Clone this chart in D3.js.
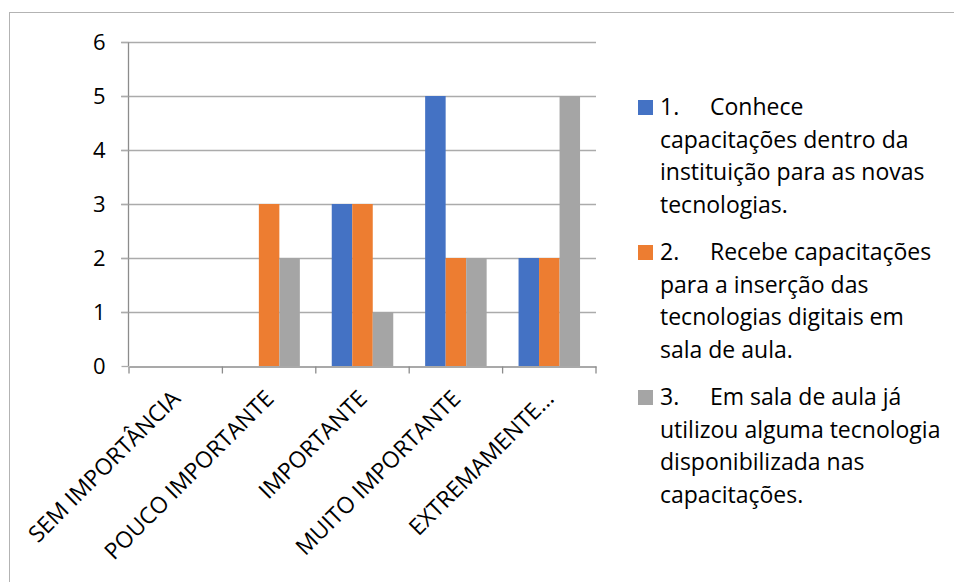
<!DOCTYPE html>
<meta charset="utf-8">
<body style="margin:0;background:#fff">
<script src="https://d3js.org/d3.v7.min.js"></script>
<script>
var width = 954,
    height = 582;

// chart data
var categories = ["SEM IMPORTÂNCIA", "POUCO IMPORTANTE", "IMPORTANTE", "MUITO IMPORTANTE", "EXTREMAMENTE…"];
var seriesKeys = ["s1", "s2", "s3"];
var s1 = [0, 0, 3, 5, 2];
var s2 = [0, 3, 3, 2, 2];
var s3 = [0, 2, 1, 2, 5];
var yTicks = [0, 1, 2, 3, 4, 5, 6];
var colors = ["#4472c4", "#ed7d31", "#a5a5a5"];
var legendNums = ["1.", "2.", "3."];
var legendLines = [
  ["Conhece", "capacitações dentro da", "instituição para as novas", "tecnologias."],
  ["Recebe capacitações", "para a inserção das", "tecnologias digitais em", "sala de aula."],
  ["Em sala de aula já", "utilizou alguma tecnologia", "disponibilizada nas", "capacitações."]
];

var font = "'Open Sans', sans-serif";
var fs = "23px";

var svg = d3.select("body").append("svg")
    .attr("width", width)
    .attr("height", height);

// outer chart frame
svg.append("rect")
    .attr("x", 9.5).attr("y", 12.5)
    .attr("width", 980).attr("height", 620)
    .attr("fill", "none")
    .attr("stroke", "#b3b3b3");

var x = d3.scaleBand()
    .domain(categories)
    .range([129, 596]);

var y = d3.scaleLinear()
    .domain([0, 6])
    .range([366, 42]);

var groupW = 61.5;
var x1 = d3.scaleBand()
    .domain(seriesKeys)
    .range([0, groupW]);

// gridlines
svg.append("g").selectAll("line")
    .data(yTicks.filter(d => d > 0))
    .enter().append("line")
    .attr("x1", 121).attr("x2", 596)
    .attr("y1", d => Math.round(y(d)) + 0.5)
    .attr("y2", d => Math.round(y(d)) + 0.5)
    .attr("stroke", "#ababab")
    .attr("stroke-width", 1.3);

// bars
var rows = categories.map((c, i) => ({cat: c, vals: [s1[i], s2[i], s3[i]]}));
var grp = svg.append("g").selectAll("g")
    .data(rows)
    .enter().append("g")
    .attr("transform", d => "translate(" + (x(d.cat) + (x.bandwidth() - groupW) / 2) + ",0)");

grp.selectAll("rect")
    .data(d => d.vals.map((v, k) => ({key: seriesKeys[k], v: v, k: k})))
    .enter().append("rect")
    .attr("x", d => x1(d.key))
    .attr("width", x1.bandwidth())
    .attr("y", d => y(d.v))
    .attr("height", d => y(0) - y(d.v))
    .attr("fill", d => colors[d.k]);

// y axis
var yAxis = svg.append("g")
    .attr("transform", "translate(128.5,0)")
    .call(d3.axisLeft(y).tickValues(yTicks).tickSize(7).tickPadding(16).tickFormat(d3.format("d")));
yAxis.select(".domain").attr("stroke", "#8c8c8c").attr("stroke-width", 1.3).attr("d", "M0," + y(6) + "V" + y(0));
yAxis.selectAll(".tick line").attr("stroke", "#ababab").attr("stroke-width", 1.3);
yAxis.selectAll("text")
    .attr("font-family", font)
    .attr("font-size", "22px")
    .attr("fill", "#000");

// x axis
var xAxis = svg.append("g")
    .attr("transform", "translate(0," + (y(0) + 0.5) + ")")
    .call(d3.axisBottom(x).tickSize(0).tickFormat(""));
xAxis.select(".domain").attr("stroke", "#8c8c8c").attr("stroke-width", 1.3);
xAxis.selectAll(".tick").remove();

var edges = categories.map(c => x(c)).concat([x.range()[1]]);
xAxis.selectAll("line.edge")
    .data(edges)
    .enter().append("line")
    .attr("class", "edge")
    .attr("x1", d => d).attr("x2", d => d)
    .attr("y1", 0).attr("y2", 7)
    .attr("stroke", "#8c8c8c")
    .attr("stroke-width", 1.3);

svg.append("g").selectAll("text")
    .data(categories)
    .enter().append("text")
    .attr("transform", d => "translate(" + (x(d) + x.bandwidth() / 2 + 6) + ",400) rotate(-45)")
    .attr("text-anchor", "end")
    .attr("font-family", font)
    .attr("font-size", "22.8px")
    .attr("fill", "#000")
    .text(d => d);

// legend
var itemTop = [115, 260, 405];
var lineH = 32.5;
var legend = svg.append("g").selectAll("g")
    .data(legendLines)
    .enter().append("g");

legend.append("rect")
    .attr("x", 638).attr("y", (d, i) => itemTop[i] - 15)
    .attr("width", 15).attr("height", 15)
    .attr("fill", (d, i) => colors[i]);

legend.append("text")
    .attr("x", 660).attr("y", (d, i) => itemTop[i])
    .attr("font-family", font).attr("font-size", fs)
    .text((d, i) => legendNums[i]);

legend.each(function(lines, i) {
  d3.select(this).selectAll("text.line")
    .data(lines)
    .enter().append("text")
    .attr("class", "line")
    .attr("x", (d, j) => j === 0 ? 710 : 660)
    .attr("y", (d, j) => itemTop[i] + j * lineH)
    .attr("font-family", font)
    .attr("font-size", fs)
    .attr("fill", "#000")
    .text(d => d);
});
</script>
</body>
